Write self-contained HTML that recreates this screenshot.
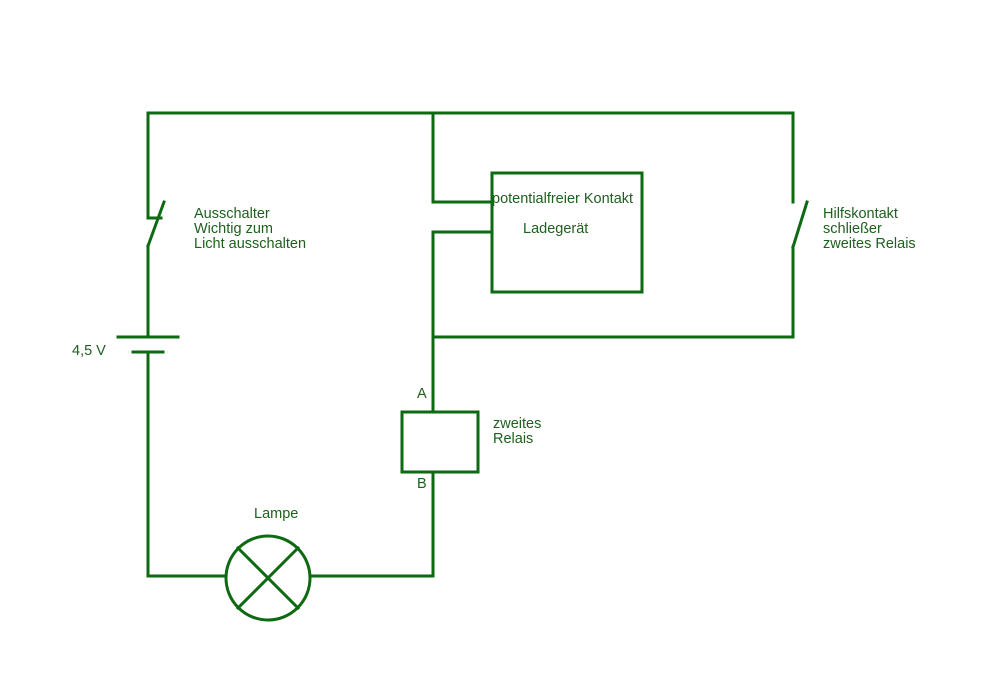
<!DOCTYPE html>
<html><head><meta charset="utf-8"><style>
html,body{margin:0;padding:0;background:#fff;}
svg{display:block;}
text{font-family:"Liberation Sans",sans-serif;font-size:14.5px;fill:#1e601e;}
</style></head><body>
<svg width="981" height="675" viewBox="0 0 981 675" xmlns="http://www.w3.org/2000/svg">
<g stroke="#0d6a12" stroke-width="3" fill="none" stroke-linecap="square">
<polyline points="148,218 148,113 793,113 793,202"/>
<line x1="148" y1="218" x2="161" y2="218"/>
<line x1="164" y1="202" x2="148" y2="246"/>
<line x1="148" y1="246" x2="148" y2="337"/>
<line x1="118" y1="337" x2="178" y2="337"/>
<line x1="133" y1="352" x2="163" y2="352"/>
<polyline points="148,352 148,576 226,576"/>
<circle cx="268" cy="578" r="42"/>
<line x1="238" y1="548" x2="298" y2="608"/>
<line x1="298" y1="548" x2="238" y2="608"/>
<polyline points="310,576 433,576 433,472"/>
<rect x="402" y="412" width="76" height="60"/>
<polyline points="433,412 433,232 492,232"/>
<polyline points="433,113 433,202 492,202"/>
<rect x="492" y="173" width="150" height="119"/>
<line x1="807" y1="202" x2="793" y2="247"/>
<polyline points="793,247 793,337 433,337"/>
</g>
<text x="194" y="218">Ausschalter</text>
<text x="194" y="233">Wichtig zum</text>
<text x="194" y="248">Licht ausschalten</text>
<text x="72" y="355">4,5 V</text>
<text x="492" y="203">potentialfreier Kontakt</text>
<text x="523" y="233">Ladegerät</text>
<text x="823" y="218">Hilfskontakt</text>
<text x="823" y="233">schließer</text>
<text x="823" y="248">zweites Relais</text>
<text x="417" y="398">A</text>
<text x="417" y="488">B</text>
<text x="493" y="428">zweites</text>
<text x="493" y="443">Relais</text>
<text x="254" y="518">Lampe</text>
</svg>
</body></html>
